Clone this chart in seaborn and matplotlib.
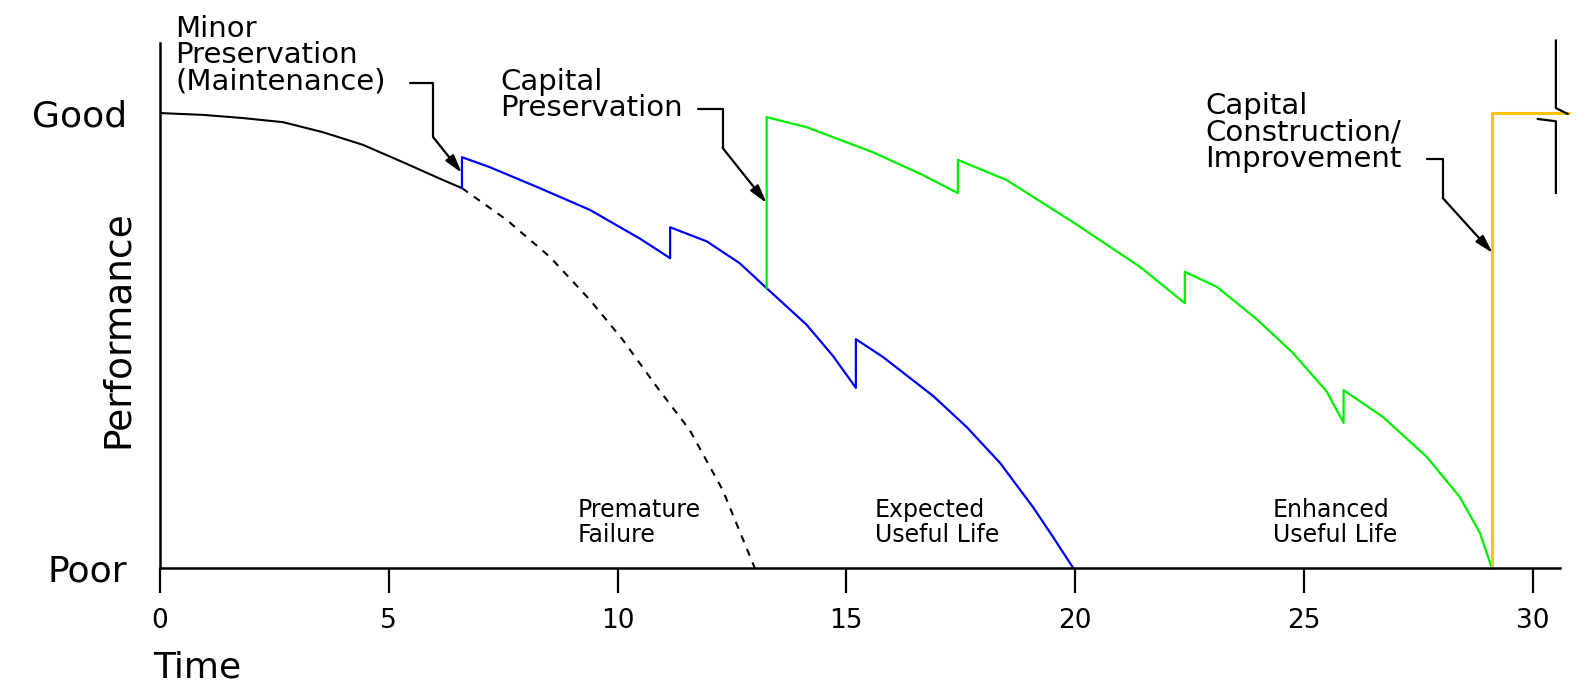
import numpy as np
import pandas as pd
import matplotlib
matplotlib.use("Agg")
import matplotlib.pyplot as plt
import seaborn as sns

# Performance curves (x = time, y = performance, 0 = Poor, 1 = Good)
premature_x = [0, 0.94, 1.81, 2.69, 3.56, 4.44, 5.31, 6.18, 6.6]
premature_y = [1.0, 0.996, 0.989, 0.98, 0.958, 0.93, 0.892, 0.853, 0.835]

failure_x = [6.6, 7.58, 8.52, 9.4, 10.12, 10.86, 11.58, 12.3, 13.0]
failure_y = [0.835, 0.765, 0.684, 0.589, 0.501, 0.398, 0.303, 0.171, 0.0]

expected_x = [6.6, 6.6, 7.21, 8.3, 9.4, 10.49, 11.15, 11.15, 11.95, 12.67, 13.26,
              14.13, 14.71, 15.21, 15.21, 15.8, 16.9, 17.63, 18.36, 19.08, 19.52, 19.96]
expected_y = [0.835, 0.903, 0.881, 0.835, 0.787, 0.724, 0.681, 0.749, 0.718, 0.670, 0.615,
              0.535, 0.466, 0.396, 0.503, 0.464, 0.378, 0.31, 0.231, 0.134, 0.068, 0.0]

enhanced_x = [13.26, 13.26, 14.13, 15.58, 16.67, 17.44, 17.44, 18.5, 19.96, 21.42, 22.4,
              22.4, 23.1, 23.97, 24.76, 25.5, 25.87, 25.87, 26.73, 27.69, 28.41, 28.85, 29.11]
enhanced_y = [0.615, 0.991, 0.969, 0.914, 0.864, 0.824, 0.897, 0.853, 0.76, 0.662, 0.582,
              0.651, 0.618, 0.547, 0.473, 0.388, 0.319, 0.391, 0.332, 0.244, 0.156, 0.077, 0.0]

improvement_x = [29.11, 29.11, 30.8]
improvement_y = [0.0, 1.0, 1.0]

x_ticks = [0, 5, 10, 15, 20, 25, 30]
y_ticks = [0, 1]
y_tick_labels = ["Poor", "Good"]

# callout leaders: (path before arrow, arrow tip)
minor_leader = [(5.46, 1.066), (5.97, 1.066), (5.97, 0.947)]
minor_tip = (6.6, 0.868)
capital_leader = [(11.76, 1.009), (12.3, 1.009), (12.3, 0.923)]
capital_tip = (13.26, 0.802)
construct_leader = [(27.69, 0.899), (28.04, 0.899), (28.04, 0.813)]
construct_tip = (29.13, 0.692)

# break marker at the right edge
break_upper_x = [30.51, 30.51, 30.77]
break_upper_y = [1.16, 1.011, 0.998]
break_lower_x = [30.11, 30.51, 30.51]
break_lower_y = [0.987, 0.982, 0.824]

sns.set_style("white")
plt.rcParams['font.family'] = ['DejaVu Sans']
plt.rcParams['text.color'] = 'black'
plt.rcParams['axes.labelcolor'] = 'black'
plt.rcParams['xtick.color'] = 'black'
plt.rcParams['ytick.color'] = 'black'

fig = plt.figure(figsize=(15.85, 6.9), dpi=100)
ax = fig.add_axes([160 / 1585, 122 / 690, 1400 / 1585, 525 / 690])

def curve(x, y, **kw):
    df = pd.DataFrame({'x': x, 'y': y})
    sns.lineplot(data=df, x='x', y='y', sort=False, estimator=None, ax=ax, **kw)
    return ax.lines[-1]

curve(premature_x, premature_y, color='black', lw=1.5)
curve(failure_x, failure_y, color='black', lw=1.5, linestyle=(0, (3.5, 3.5)))
curve(expected_x, expected_y, color='#0000FF', lw=1.6)
curve(enhanced_x, enhanced_y, color='#00EE00', lw=1.6)
ln = curve(improvement_x, improvement_y, color='#FFC20E', lw=2.2)
ln.set_clip_on(False)

for bx, by in [(break_upper_x, break_upper_y), (break_lower_x, break_lower_y)]:
    l = curve(bx, by, color='black', lw=1.6)
    l.set_clip_on(False)

# callout text and leaders
label_kw = dict(fontsize=21, ha='left', va='top', linespacing=0.92)
ax.text(0.33, 1.215, "Minor\nPreservation\n(Maintenance)", **label_kw)
ax.text(7.43, 1.099, "Capital\nPreservation", **label_kw)
ax.text(22.84, 1.046, "Capital\nConstruction/\nImprovement", **label_kw)

for path, tip in [(minor_leader, minor_tip), (capital_leader, capital_tip),
                  (construct_leader, construct_tip)]:
    px, py = zip(*path)
    l = ax.plot(px, py, color='black', lw=1.6)[0]
    l.set_clip_on(False)
    ax.annotate("", xy=tip, xytext=path[-1],
                arrowprops=dict(arrowstyle='-|>,head_length=1.1,head_width=0.3',
                                color='black', lw=1.6, shrinkA=0, shrinkB=0))

small_kw = dict(fontsize=17, ha='left', va='top', linespacing=1.05)
ax.text(9.13, 0.154, "Premature\nFailure", **small_kw)
ax.text(15.63, 0.154, "Expected\nUseful Life", **small_kw)
ax.text(24.32, 0.154, "Enhanced\nUseful Life", **small_kw)

ax.set_xlim(0, 30.6)
ax.set_ylim(0, 1.154)
ax.set_xticks(x_ticks)
ax.set_xticklabels([str(t) for t in x_ticks], fontsize=19)
ax.set_yticks(y_ticks)
ax.set_yticklabels(y_tick_labels, fontsize=26)
ax.tick_params(axis='x', direction='out', length=18, width=1.6, pad=11, bottom=True)
ax.tick_params(axis='y', length=0, pad=24, left=False)

for side in ['top', 'right']:
    ax.spines[side].set_visible(False)
for side in ['left', 'bottom']:
    ax.spines[side].set_color('black')
    ax.spines[side].set_linewidth(1.8)

ax.set_xlabel("Time", fontsize=26, ha='left', va='center')
ax.xaxis.set_label_coords(-0.005, -0.189)
ax.set_ylabel("Performance", fontsize=27, ha='center', va='center')
ax.yaxis.set_label_coords(-0.03, 0.455)

fig.savefig("out.png", dpi=100)
plt.close(fig)
